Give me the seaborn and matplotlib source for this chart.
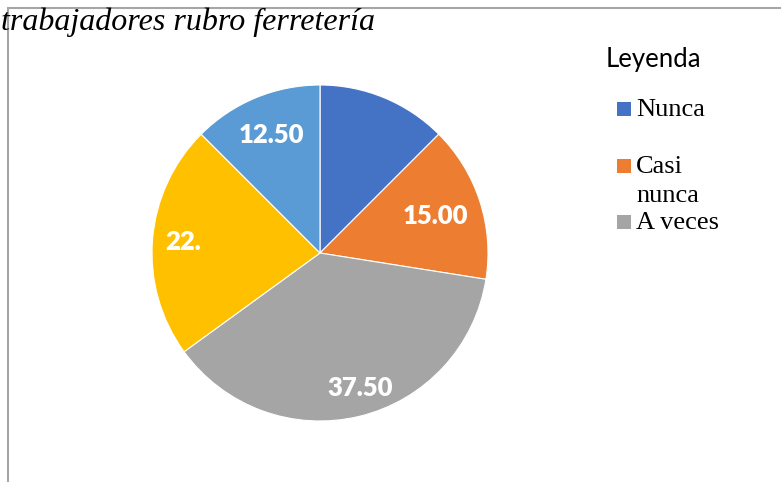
import numpy as np
import seaborn as sns
from matplotlib import pyplot as plt
from matplotlib.lines import Line2D
from matplotlib.patches import Rectangle

# survey answers (percent), slices drawn clockwise from 12 o'clock
categories = ["Nunca", "Casi nunca", "A veces", "Casi siempre", "Siempre"]
values = [12.50, 15.00, 37.50, 22.50, 12.50]
# data labels as they show in the picture (first one missing, third cut off)
value_labels = ["", "15.00", "37.50", "22.", "12.50"]
# legend only shows the first three entries, "Casi nunca" wraps
legend_lines = [["Nunca"], ["Casi", "nunca"], ["A veces"]]

colors = ["#4472C4", "#ED7D31", "#A5A5A5", "#FFC000", "#5B9BD5"]

sns.set_theme(style="white")
plt.rcParams["font.family"] = ["Liberation Serif", "DejaVu Sans"]
plt.rcParams["text.color"] = "black"

W, H = 781, 482
fig = plt.figure(figsize=(W / 100, H / 100), dpi=100)

def fx(px):
    return px / W

def fy(py):
    return 1 - py / H

# pie axes: centre (320, 253), radius ~168 px
cx, cy, r = 320, 253, 168
ax = fig.add_axes([fx(cx - r), fy(cy + r), 2 * r / W, 2 * r / H])
wedges, _ = ax.pie(values, colors=colors, startangle=90, counterclock=False,
                   radius=1, wedgeprops=dict(edgecolor="white", linewidth=0.8))
ax.set_xlim(-1, 1)
ax.set_ylim(-1, 1)
ax.set_aspect("equal")
ax.axis("off")

# data labels at slice mid angles
label_dist = [0.7, 0.72, 0.84, 0.82, 0.76]
label_turn = [0, 0, 3, 0, 0]  # small angular nudges, degrees
for w, txt, d, t in zip(wedges, value_labels, label_dist, label_turn):
    if not txt:
        continue
    mid = np.deg2rad((w.theta1 + w.theta2) / 2 + t)
    ax.text(d * np.cos(mid), d * np.sin(mid), txt, ha="center", va="center",
            color="white", fontsize=18.5, fontweight="heavy", family="Lato")

# frame lines of the chart area
line_c = "#A6A6A6"
fig.add_artist(Line2D([fx(8), 1], [fy(8), fy(8)], color=line_c, lw=1.5,
                      transform=fig.transFigure))
fig.add_artist(Line2D([fx(8), fx(8)], [fy(8), 0], color=line_c, lw=1.5,
                      transform=fig.transFigure))

# title (cut off at the left in the original)
fig.text(fx(1), fy(30), "trabajadores rubro ferretería", fontsize=23,
         style="italic", family="Liberation Serif", va="baseline", ha="left",
         color="black")

# legend
fig.text(fx(606), fy(67), "Leyenda", fontsize=18.5, family="Lato",
         va="baseline", ha="left", color="black")
baselines = [[116], [173, 202], [229]]
for col, lines, ys in zip(colors, legend_lines, baselines):
    fig.add_artist(Rectangle((fx(617), fy(ys[0])), 14 / W, 14 / H,
                             facecolor=col, edgecolor="none",
                             transform=fig.transFigure))
    for t, y in zip(lines, ys):
        fig.text(fx(636), fy(y), t, fontsize=19, family="Liberation Serif",
                 va="baseline", ha="left", color="black")

fig.savefig("out.png", dpi=100)
